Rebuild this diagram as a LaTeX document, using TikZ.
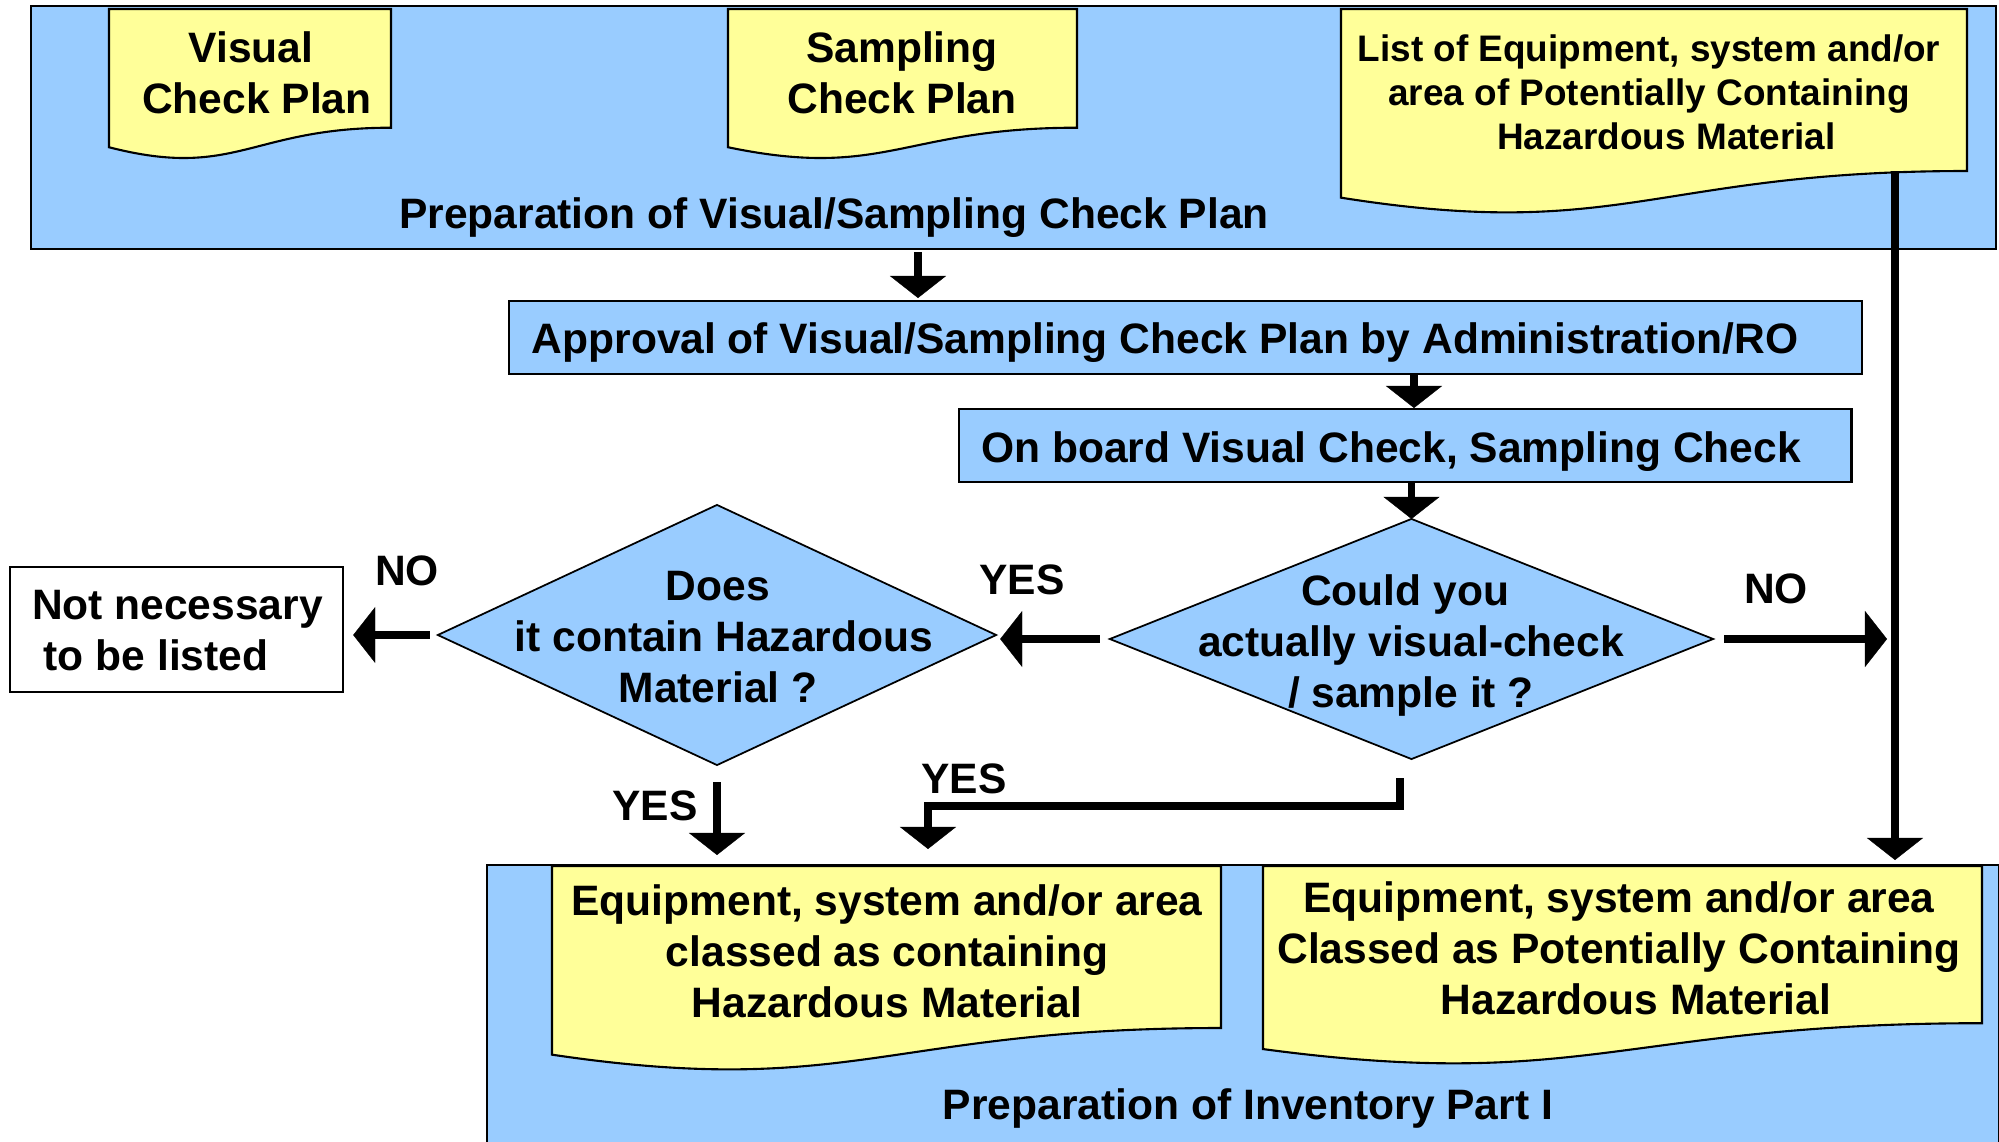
\documentclass[tikz,border=0pt]{standalone}
\usepackage{fontspec}
\setmainfont{Liberation Sans}
\usetikzlibrary{arrows.meta,shapes.geometric}

\definecolor{paneblue}{RGB}{153,204,255}
\definecolor{notepaper}{RGB}{255,255,153}

% Document symbol with a wavy lower edge: name, left, top, width, height
\newcommand\wavedoc[5]{%
  \filldraw[docline] (#2,#3) -- ({#2+#4},#3) -- ({#2+#4},{#3+0.802*#5})
    .. controls ({#2+0.5*#4},{#3+0.802*#5}) and ({#2+0.45*#4},{#3+1.155*#5})
    .. (#2,{#3+0.934*#5}) -- cycle;
  \coordinate (#1-br) at ({#2+#4},{#3+0.802*#5});}
% leading / trailing word space kept at a line break
\newcommand\lsp{\hspace*{0.278em}}

\begin{document}
\begin{tikzpicture}[x=0.01cm, y=-0.01cm,
  every node/.style={inner sep=0pt, outer sep=0pt},
  txt/.style={font=\fontsize{12.1}{14.5}\selectfont\bfseries, align=center},
  smalltxt/.style={font=\fontsize{10.5}{12.5}\selectfont\bfseries, align=center},
  panel/.style={draw, line width=0.6pt, fill=paneblue, anchor=north west},
  notebox/.style={draw, line width=0.6pt, fill=white, anchor=north west},
  decision/.style={diamond, draw, line width=0.5pt, fill=paneblue},
  docline/.style={draw, line width=0.6pt, fill=notepaper},
  flow/.style={line width=2.1pt, -{Triangle[length=0.22cm, width=0.56cm, line width=0.1pt]}},
  wideflow/.style={flow, line width=2.5pt},
  feedflow/.style={flow, line width=2.3pt, line join=miter}
]
\useasboundingbox (0,0) rectangle (1999,1142);
\clip (0,0) rectangle (1999,1142);

% planning stage
\node[panel, minimum width=19.64cm, minimum height=2.43cm] (plan) at (31,6) {};
\wavedoc{vis}{109}{9}{282}{148}
\wavedoc{smp}{728}{9}{349}{148}
\wavedoc{lst}{1341}{9}{626}{202}
\node[txt] (vis-t) at (251,73) {Visual\\\lsp Check Plan};
\node[txt] (smp-t) at (902,73) {Sampling\\Check Plan};
\node[smalltxt] (lst-t) at (1649,92) {List of Equipment, system and/or\\area of Potentially Containing\\\hspace*{0.95em}Hazardous Material};
\node[txt] (plan-t) at (834,218) {Preparation of Visual/Sampling Check Plan};

% approval and on-board checks
\node[panel, minimum width=13.52cm, minimum height=0.73cm] (appr) at (509,301) {};
\node[txt] (appr-t) at (1165,343) {Approval of Visual/Sampling Check Plan by Administration/RO};
\node[panel, minimum width=8.92cm, minimum height=0.73cm] (board) at (959,409) {};
\node[txt] (board-t) at (1391,452) {On board Visual Check, Sampling Check};

% decisions
\node[decision, minimum width=6.03cm, minimum height=2.40cm] (check) at (1411.5,639) {};
\node[txt] (check-t) at (1411,645) {Could you\lsp\\actually visual-check\\/ sample it ?};
\node[decision, minimum width=5.58cm, minimum height=2.60cm] (haz) at (717,635) {};
\node[txt] (haz-t) at (718,637) {Does\\\lsp it contain Hazardous\\Material ?};

\node[notebox, minimum width=3.33cm, minimum height=1.25cm] (skip) at (10,567) {};
\node[txt, align=left, anchor=west] (skip-t) at (32,631) {Not necessary\\\lsp to be listed};

% inventory stage
\node[panel, minimum width=15.11cm, minimum height=3.0cm] (inv) at (487,865) {};
\wavedoc{cls}{552}{866}{669}{202}
\wavedoc{pot}{1263}{866}{719}{196}
\node[txt] (cls-t) at (887,951) {Equipment, system and/or area\\classed as containing\\Hazardous Material};
\node[txt] (pot-t) at (1619,948) {Equipment, system and/or area\\Classed as Potentially Containing\\\hspace*{0.8em}Hazardous Material};
\node[txt] (inv-t) at (1248,1108) {Preparation of Inventory Part I};

% branch labels
\node[txt] (no1) at (407,571) {NO};
\node[txt] (yes1) at (1022,580) {YES};
\node[txt] (no2) at (1776,589) {NO};
\node[txt] (yes2) at (655,806) {YES};
\node[txt] (yes3) at (964,779) {YES};

% connector guides
\coordinate (ax) at (918,0);
\coordinate (bx) at (1414,0);
\coordinate (vl) at (1895,0);
\coordinate (jx) at (1400,806);
\coordinate (kx) at (928,806);

% connectors
\draw[flow, shorten <=0.03cm, shorten >=0.03cm] (plan.south -| ax) -- (appr.north -| ax);
\draw[flow, shorten <=0.01cm, shorten >=0.01cm] (appr.south -| bx) -- (board.north -| bx);
\draw[flow] (board.south -| check.north) -- (check.north);
\draw[wideflow, shorten <=0.10cm, shorten >=0.04cm] (check.west) -- (check.west -| haz.east);
\draw[wideflow, shorten <=0.08cm, shorten >=0.10cm] (haz.west) -- (haz.west -| skip.east);
\draw[wideflow, shorten <=0.11cm, shorten >=0.08cm] (check.east) -- (check.east -| vl);
\draw[feedflow, shorten >=0.05cm] (lst-br -| vl) -- (inv.north -| vl);
\draw[flow, shorten <=0.17cm, shorten >=0.10cm] (haz.south) -- (haz.south |- inv.north);
\draw[feedflow, shorten <=0.19cm, shorten >=0.16cm] (check.south -| jx) -- (jx) -- (kx) -- (kx |- inv.north);
\end{tikzpicture}
\end{document}
